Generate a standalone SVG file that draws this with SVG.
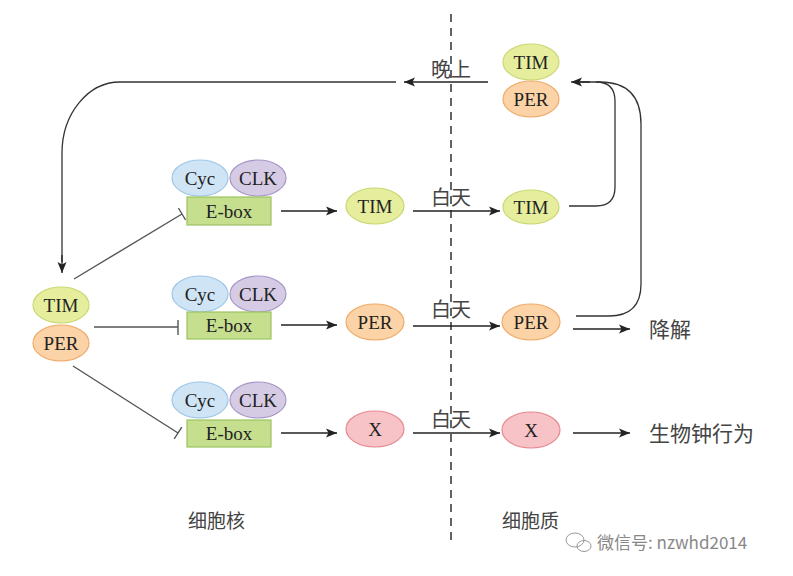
<svg xmlns="http://www.w3.org/2000/svg" width="793" height="576" viewBox="0 0 793 576">
<defs>
<marker id="ah" markerWidth="12" markerHeight="10" refX="11" refY="5" orient="auto" markerUnits="userSpaceOnUse">
<path d="M0,0.5 L11,5 L0,9.5 L2.5,5 Z" fill="#222"/>
</marker>
<style>
.lbl{font-family:"Liberation Serif","Times New Roman",serif;font-size:19px;fill:#222;text-anchor:middle;dominant-baseline:central}
.cn{font-family:"Noto Sans CJK SC","Noto Sans",sans-serif;fill:#444}
.tim{fill:#e6ee9e;stroke:#c9d873;stroke-width:1.2}
.per{fill:#fbd3a6;stroke:#efab6a;stroke-width:1.2}
.x{fill:#f7c3c6;stroke:#e58a90;stroke-width:1.2}
.cyc{fill:#cfe5f6;stroke:#9fc6e6;stroke-width:1.2}
.clk{fill:#d6cbe5;stroke:#a797c6;stroke-width:1.2}
.ebox{fill:#c6df8f;stroke:#9cc462;stroke-width:1.2}
.arr{fill:none;stroke:#222;stroke-width:1.3;marker-end:url(#ah)}
.ln{fill:none;stroke:#333;stroke-width:1.3}
.inh{fill:none;stroke:#555;stroke-width:1.4}
</style>
</defs>
<rect width="793" height="576" fill="#fff"/>

<!-- dashed boundary -->
<line x1="451" y1="14" x2="451" y2="546" stroke="#111" stroke-width="1.3" stroke-dasharray="8 6"/>

<!-- connectors -->
<g id="connectors">
<path class="arr" d="M488 82 H404"/>
<path class="ln" d="M396 82 H120 A58 71 0 0 0 62 153 V262" />
<path class="arr" d="M62 255 V273"/>
<path class="ln" d="M569 206 H596 Q615 206 615 187 V101 Q615 82 596 82"/>
<path class="ln" d="M576 316 H609 Q641 316 641 284 V124 Q641 82 600 82 H580"/>
<path class="arr" d="M590 82 H571"/>
<!-- inhibitions -->
<path class="inh" d="M74 279 L182 214 M178.4 208 L185.6 220"/>
<path class="inh" d="M94 327 H178 M178 320 V335" stroke="#888"/>
<path class="inh" d="M73 366 L178 433 M174.2 438.9 L181.8 427.1"/>
<!-- transcription arrows -->
<path class="arr" d="M281 211 H337"/>
<path class="arr" d="M281 325 H337"/>
<path class="arr" d="M281 433 H337"/>
<!-- day arrows -->
<path class="arr" d="M413 211 H500"/>
<path class="arr" d="M413 326 H500"/>
<path class="arr" d="M413 433 H500"/>
<!-- outputs -->
<path class="arr" d="M573 329 H630"/>
<path class="arr" d="M573 433 H630"/>
</g>

<!-- left TIM/PER complex -->
<g id="complex-left">
<ellipse class="tim" cx="61" cy="305" rx="28" ry="18"/>
<text class="lbl" x="61" y="305">TIM</text>
<ellipse class="per" cx="61" cy="343" rx="28" ry="18"/>
<text class="lbl" x="61" y="343">PER</text>
</g>

<!-- top complex -->
<g id="complex-top">
<ellipse class="tim" cx="531" cy="62" rx="28" ry="18"/>
<text class="lbl" x="531" y="62">TIM</text>
<ellipse class="per" cx="531" cy="99" rx="28" ry="18"/>
<text class="lbl" x="531" y="99">PER</text>
</g>

<!-- promoters -->
<g id="promoter-1">
<ellipse class="cyc" cx="200" cy="178" rx="28" ry="18"/>
<text class="lbl" x="200" y="178">Cyc</text>
<ellipse class="clk" cx="258" cy="178" rx="28" ry="18"/>
<text class="lbl" x="258" y="178">CLK</text>
<rect class="ebox" x="187" y="197" width="84" height="28"/>
<text class="lbl" x="229" y="211">E-box</text>
</g>
<g id="promoter-2">
<ellipse class="cyc" cx="200" cy="294" rx="28" ry="18"/>
<text class="lbl" x="200" y="294">Cyc</text>
<ellipse class="clk" cx="258" cy="294" rx="28" ry="18"/>
<text class="lbl" x="258" y="294">CLK</text>
<rect class="ebox" x="187" y="312" width="84" height="27"/>
<text class="lbl" x="229" y="325">E-box</text>
</g>
<g id="promoter-3">
<ellipse class="cyc" cx="200" cy="400" rx="28" ry="18"/>
<text class="lbl" x="200" y="400">Cyc</text>
<ellipse class="clk" cx="258" cy="400" rx="28" ry="18"/>
<text class="lbl" x="258" y="400">CLK</text>
<rect class="ebox" x="187" y="420" width="84" height="27"/>
<text class="lbl" x="229" y="433">E-box</text>
</g>

<!-- nuclear products -->
<g id="tim-nuc"><ellipse class="tim" cx="375" cy="206" rx="29" ry="18"/><text class="lbl" x="375" y="206">TIM</text></g>
<g id="per-nuc"><ellipse class="per" cx="375" cy="322" rx="29" ry="18"/><text class="lbl" x="375" y="322">PER</text></g>
<g id="x-nuc"><ellipse class="x" cx="375" cy="429" rx="29" ry="18"/><text class="lbl" x="375" y="429">X</text></g>

<!-- cytoplasmic products -->
<g id="tim-cyt"><ellipse class="tim" cx="531" cy="207" rx="28" ry="17"/><text class="lbl" x="531" y="207">TIM</text></g>
<g id="per-cyt"><ellipse class="per" cx="531" cy="322" rx="29" ry="18"/><text class="lbl" x="531" y="322">PER</text></g>
<g id="x-cyt"><ellipse class="x" cx="531" cy="430" rx="29" ry="18"/><text class="lbl" x="531" y="430">X</text></g>

<!-- labels -->
<g id="labels">
<text class="cn" x="451" y="77" font-size="20" text-anchor="middle">晚上</text>
<text class="cn" x="451" y="205" font-size="20" text-anchor="middle">白天</text>
<text class="cn" x="451" y="317" font-size="20" text-anchor="middle">白天</text>
<text class="cn" x="451" y="427" font-size="20" text-anchor="middle">白天</text>
<text class="cn" x="649" y="337" font-size="21">降解</text>
<text class="cn" x="649" y="441" font-size="21">生物钟行为</text>
<text class="cn" x="188" y="528" font-size="19">细胞核</text>
<text class="cn" x="502" y="528" font-size="19">细胞质</text>
</g>

<!-- watermark -->
<g id="watermark" fill="none" stroke="#999" stroke-width="1">
<ellipse cx="575" cy="540" rx="9" ry="7"/>
<ellipse cx="584" cy="546" rx="7" ry="5.5"/>
<text x="597" y="549" font-family="'Noto Sans CJK SC','Noto Sans',sans-serif" font-size="17" fill="#888" stroke="none">微信号: nzwhd2014</text>
</g>
</svg>
